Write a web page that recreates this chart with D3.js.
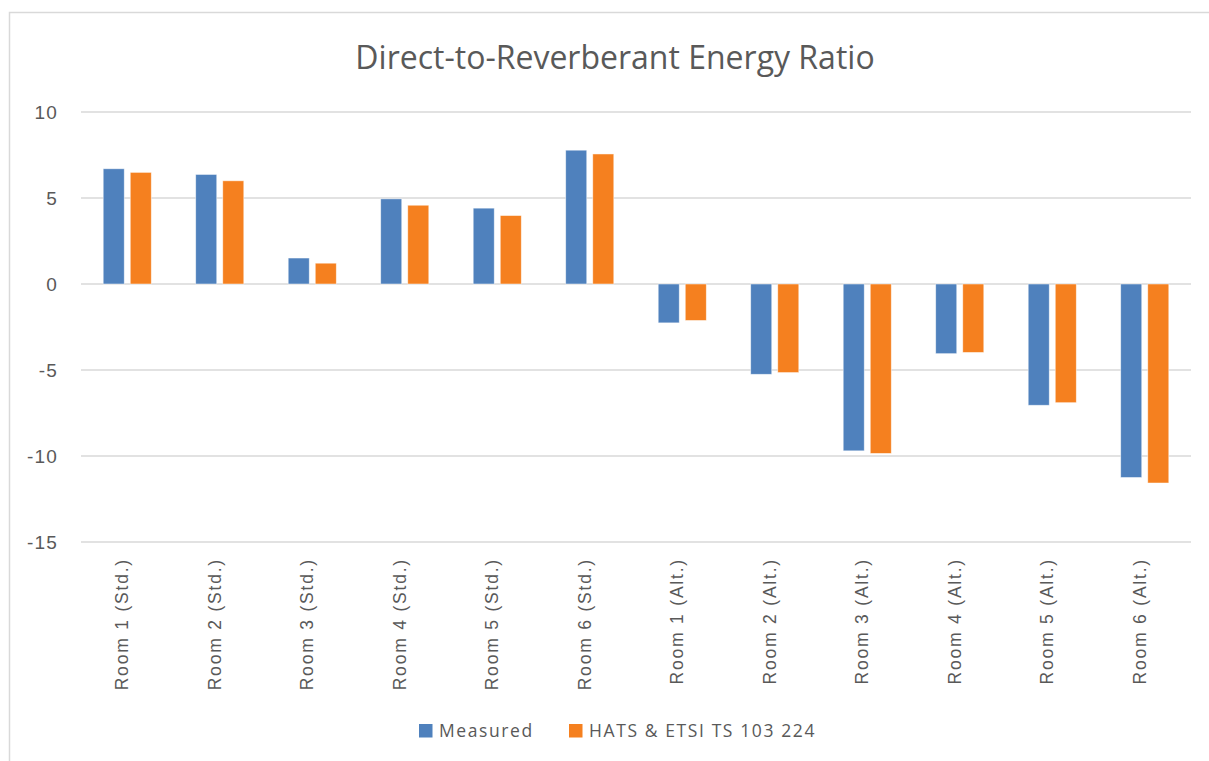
<!DOCTYPE html>
<html>
<head>
<meta charset="utf-8">
<script src="https://cdn.jsdelivr.net/npm/d3@7"></script>
<style>
  html, body { margin: 0; padding: 0; background: #fff; }
  svg { display: block; font-family: "Open Sans", sans-serif; }
</style>
</head>
<body>
<div id="chart"></div>
<script>
const categories = [
  "Room 1 (Std.)", "Room 2 (Std.)", "Room 3 (Std.)", "Room 4 (Std.)", "Room 5 (Std.)", "Room 6 (Std.)",
  "Room 1 (Alt.)", "Room 2 (Alt.)", "Room 3 (Alt.)", "Room 4 (Alt.)", "Room 5 (Alt.)", "Room 6 (Alt.)"
];
const seriesNames = ["Measured", "HATS & ETSI TS 103 224"];
const measured = [6.70, 6.37, 1.51, 4.95, 4.41, 7.78, -2.26, -5.25, -9.70, -4.05, -7.05, -11.25];
const hats = [6.49, 6.00, 1.21, 4.58, 3.98, 7.56, -2.12, -5.15, -9.85, -3.98, -6.90, -11.57];
const yTicks = [10, 5, 0, -5, -10, -15];
const colors = ["#4f81bd", "#f5801f"];

const width = 1209, height = 761;
const margin = { top: 112, right: 18, bottom: 219, left: 81 };
const textColor = "#595959";
const gridColor = "#d9d9d9";

const data = categories.map((c, i) => ({ category: c, values: [measured[i], hats[i]] }));

const svg = d3.select("#chart").append("svg")
  .attr("width", width)
  .attr("height", height);

// outer chart border (right/bottom edges fall outside the picture)
svg.append("rect")
  .attr("x", 9.5).attr("y", 12.5)
  .attr("width", 1300).attr("height", 900)
  .attr("fill", "#fff")
  .attr("stroke", gridColor)
  .attr("stroke-width", 1.5);

const x0 = d3.scaleBand()
  .domain(categories)
  .range([margin.left, width - margin.right])
  .paddingInner(0.48)
  .paddingOuter(0.24);

const x1 = d3.scaleBand()
  .domain([0, 1])
  .range([0, x0.bandwidth()])
  .paddingInner(0.222);

const y = d3.scaleLinear()
  .domain([-15, 10])
  .range([height - margin.bottom, margin.top]);

// gridlines
svg.append("g")
  .attr("class", "grid")
  .selectAll("line")
  .data(yTicks)
  .enter()
  .append("line")
  .attr("x1", margin.left)
  .attr("x2", width - margin.right)
  .attr("y1", d => y(d))
  .attr("y2", d => y(d))
  .attr("stroke", gridColor)
  .attr("stroke-width", 1.5);

// y axis labels (plain hyphen, like the original)
const yAxis = svg.append("g")
  .attr("transform", `translate(${margin.left - 23},0)`)
  .call(d3.axisLeft(y).tickValues(yTicks).tickSize(0).tickPadding(0).tickFormat(d => String(d)));
yAxis.select(".domain").remove();
yAxis.selectAll("text")
  .attr("fill", textColor)
  .style("font-size", "19px")
  .style("letter-spacing", "1.2px")
  .attr("dy", "0.36em");

// bars
const groups = svg.append("g")
  .selectAll("g")
  .data(data)
  .enter()
  .append("g")
  .attr("transform", d => `translate(${x0(d.category)},0)`);

groups.selectAll("rect")
  .data(d => d.values.map((v, i) => ({ v, i })))
  .enter()
  .append("rect")
  .attr("x", d => x1(d.i))
  .attr("width", x1.bandwidth())
  .attr("y", d => y(Math.max(0, d.v)))
  .attr("height", d => Math.abs(y(d.v) - y(0)))
  .attr("fill", d => colors[d.i])
  .attr("stroke", "#fff")
  .attr("stroke-opacity", 0.6)
  .attr("stroke-width", 0.8);

// category labels
const xAxis = svg.append("g")
  .attr("transform", `translate(0,${y(-15)})`)
  .call(d3.axisBottom(x0).tickSize(0).tickPadding(0));
xAxis.select(".domain").remove();
xAxis.selectAll("text")
  .attr("fill", textColor)
  .style("font-size", "17.5px")
  .style("letter-spacing", "1.8px")
  .attr("text-anchor", "end")
  .attr("dy", "0.35em")
  .attr("transform", "translate(-5,16) rotate(-90)");

// title
svg.append("text")
  .attr("x", 615)
  .attr("y", 69)
  .attr("text-anchor", "middle")
  .attr("fill", textColor)
  .style("font-size", "32px")
  .text("Direct-to-Reverberant Energy Ratio");

// legend
const legendX = [419, 569];
const legend = svg.append("g")
  .selectAll("g")
  .data(seriesNames)
  .enter()
  .append("g")
  .attr("transform", (d, i) => `translate(${legendX[i]},724)`);

legend.append("rect")
  .attr("width", 13.5)
  .attr("height", 13.5)
  .attr("fill", (d, i) => colors[i]);

legend.append("text")
  .attr("x", 20)
  .attr("y", 13)
  .attr("fill", textColor)
  .style("font-size", "17.5px")
  .style("letter-spacing", "1.6px")
  .text(d => d);
</script>
</body>
</html>
